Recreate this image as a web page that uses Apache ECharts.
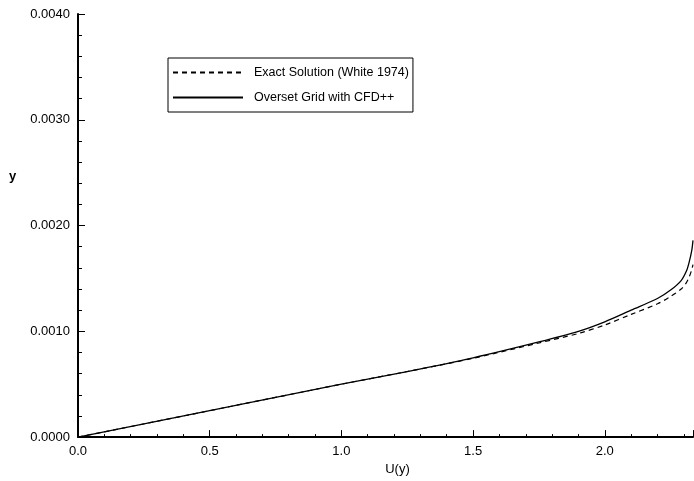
<!DOCTYPE html>
<html>
<head>
<meta charset="utf-8">
<script src="https://cdn.jsdelivr.net/npm/echarts@6/dist/echarts.min.js"></script>
<style>
  html, body { margin: 0; padding: 0; background: #fff; }
  #chart { width: 694px; height: 481px; }
</style>
</head>
<body>
<div id="chart"></div>
<script>
// Velocity profile U(y) against wall distance y
const seriesNames = ['Exact Solution (White 1974)', 'Overset Grid with CFD++'];

const uExact = [0, 0.5, 1.0, 1.25, 1.5, 1.75, 1.9, 2.0, 2.1, 2.2, 2.25, 2.29, 2.31, 2.32, 2.33, 2.335];
const yExact = [0, 0.00025, 0.00050, 0.00062, 0.000745, 0.00089, 0.00098, 0.00106, 0.00116, 0.00126, 0.00133, 0.00140, 0.00146, 0.00151, 0.00158, 0.00163];

const uCfd = [0, 0.5, 1.0, 1.25, 1.5, 1.75, 1.9, 2.0, 2.1, 2.2, 2.25, 2.29, 2.31, 2.32, 2.33, 2.335];
const yCfd = [0, 0.00025, 0.00050, 0.00062, 0.00075, 0.00090, 0.00100, 0.00109, 0.00120, 0.00131, 0.00139, 0.00148, 0.00157, 0.00165, 0.00176, 0.00186];

const xTicks = [0, 0.5, 1.0, 1.5, 2.0];
const yTicks = [0, 0.001, 0.002, 0.003, 0.004];

const pairs = (xs, ys) => xs.map((x, i) => [x, ys[i]]);

const chart = echarts.init(document.getElementById('chart'));
const font = 'Liberation Sans, Arial, sans-serif';

chart.setOption({
  animation: false,
  backgroundColor: '#fff',
  textStyle: { fontFamily: font, color: '#000' },
  grid: { left: 78, right: 1, top: 14, bottom: 43 },
  legend: {
    left: 168, top: 58,
    orient: 'vertical',
    itemWidth: 70, itemHeight: 10, itemGap: 12,
    padding: [8, 4, 8, 4],
    borderColor: '#000', borderWidth: 1,
    itemStyle: { opacity: 0 },
    textStyle: { fontSize: 12.5, color: '#000', fontFamily: font, padding: [0, 0, 0, 6] },
    data: seriesNames
  },
  xAxis: {
    type: 'value',
    min: xTicks[0], max: 2.335, interval: 0.5,
    name: 'U(y)', nameLocation: 'middle', nameGap: 25,
    nameTextStyle: { fontSize: 13, color: '#000', padding: [0, 0, 0, 24] },
    axisLine: { lineStyle: { color: '#000', width: 2 } },
    axisTick: { inside: true, length: 7, lineStyle: { color: '#000', width: 1 } },
    minorTick: { show: true, splitNumber: 5, length: 3, lineStyle: { color: '#000' } },
    splitLine: { show: false },
    axisLabel: {
      fontSize: 13, color: '#000', margin: 8, showMaxLabel: false,
      formatter: v => xTicks.some(t => Math.abs(t - v) < 1e-9) ? v.toFixed(1) : ''
    }
  },
  yAxis: {
    type: 'value',
    min: yTicks[0], max: yTicks[yTicks.length - 1], interval: 0.001,
    axisLine: { show: true, lineStyle: { color: '#000', width: 2 } },
    axisTick: { show: true, inside: true, length: 7, lineStyle: { color: '#000', width: 1 } },
    minorTick: { show: true, splitNumber: 5, length: 4, lineStyle: { color: '#000' } },
    splitLine: { show: false },
    axisLabel: {
      fontSize: 13, color: '#000', margin: 8,
      formatter: v => v.toFixed(4)
    }
  },
  graphic: [{
    type: 'text', left: 9, top: 170,
    style: { text: 'y', font: 'bold 13px ' + font, fill: '#000' }
  }],
  series: [
    {
      name: seriesNames[0], type: 'line', symbol: 'none', smooth: 0.3,
      lineStyle: { color: '#000', width: 1.2, type: [5, 4] },
      itemStyle: { color: '#000' },
      data: pairs(uExact, yExact)
    },
    {
      name: seriesNames[1], type: 'line', symbol: 'none', smooth: 0.3,
      lineStyle: { color: '#000', width: 1.3 },
      itemStyle: { color: '#000' },
      data: pairs(uCfd, yCfd)
    }
  ]
});
</script>
</body>
</html>
